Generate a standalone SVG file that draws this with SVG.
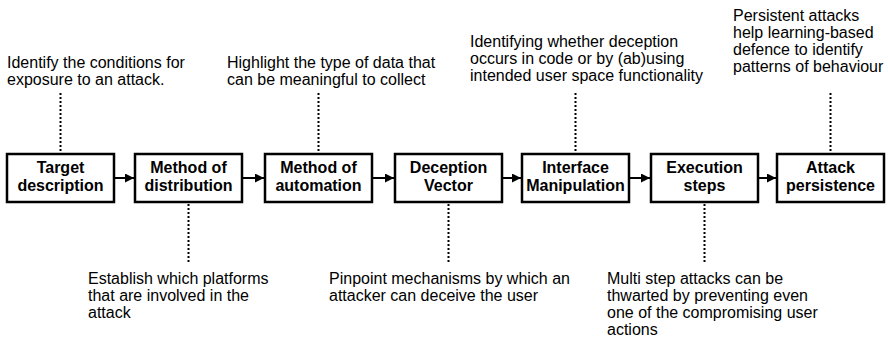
<svg xmlns="http://www.w3.org/2000/svg" width="888" height="347" viewBox="0 0 888 347">
<style>
.box{fill:#fff;stroke:#000;stroke-width:2.5}
.bt{font-family:"Liberation Sans",Arial,sans-serif;font-size:16px;font-weight:bold;text-anchor:middle;fill:#000}
.nt{font-family:"Liberation Sans",Arial,sans-serif;font-size:16px;fill:#000}
.arr{stroke:#000;stroke-width:2;fill:none;marker-end:url(#ah)}
.dot{stroke:#000;stroke-width:2;stroke-dasharray:2 2;fill:none}
</style>
<defs>
<marker id="ah" viewBox="0 0 10 10" refX="10" refY="5" markerWidth="4.5" markerHeight="4.5" orient="auto" markerUnits="strokeWidth">
<path d="M0,0 L10,5 L0,10 Z" fill="#000"/>
</marker>
</defs>
<rect width="888" height="347" fill="#fff"/>
<g id="connectors">
<line class="arr" x1="115" y1="178" x2="134" y2="178"/>
<line class="arr" x1="243" y1="178" x2="264" y2="178"/>
<line class="arr" x1="373" y1="178" x2="394" y2="178"/>
<line class="arr" x1="503" y1="178" x2="521" y2="178"/>
<line class="arr" x1="630" y1="178" x2="650" y2="178"/>
<line class="arr" x1="759" y1="178" x2="776" y2="178"/>
<line class="dot" x1="60.5" y1="93" x2="60.5" y2="153"/>
<line class="dot" x1="318.5" y1="93" x2="318.5" y2="153"/>
<line class="dot" x1="575.5" y1="93" x2="575.5" y2="153"/>
<line class="dot" x1="830.5" y1="93" x2="830.5" y2="153"/>
<line class="dot" x1="188.5" y1="204" x2="188.5" y2="264"/>
<line class="dot" x1="448.5" y1="204" x2="448.5" y2="264"/>
<line class="dot" x1="704.5" y1="204" x2="704.5" y2="264"/>
</g>
<g id="n1"><rect class="box" x="7" y="154" width="107" height="48"/><text class="bt" x="60.5" y="173">Target</text><text class="bt" x="60.5" y="191">description</text></g>
<g id="n2"><rect class="box" x="135" y="154" width="107" height="48"/><text class="bt" x="188.5" y="173">Method of</text><text class="bt" x="188.5" y="191">distribution</text></g>
<g id="n3"><rect class="box" x="265" y="154" width="107" height="48"/><text class="bt" x="318.5" y="173">Method of</text><text class="bt" x="318.5" y="191">automation</text></g>
<g id="n4"><rect class="box" x="395" y="154" width="107" height="48"/><text class="bt" x="448.5" y="173">Deception</text><text class="bt" x="448.5" y="191">Vector</text></g>
<g id="n5"><rect class="box" x="522" y="154" width="107" height="48"/><text class="bt" x="575.5" y="173">Interface</text><text class="bt" x="575.5" y="191">Manipulation</text></g>
<g id="n6"><rect class="box" x="651" y="154" width="107" height="48"/><text class="bt" x="704.5" y="173">Execution</text><text class="bt" x="704.5" y="191">steps</text></g>
<g id="n7"><rect class="box" x="777" y="154" width="107" height="48"/><text class="bt" x="830.5" y="173">Attack</text><text class="bt" x="830.5" y="191">persistence</text></g>
<g id="note1"><text class="nt" x="7" y="68">Identify the conditions for</text><text class="nt" x="7" y="85">exposure to an attack.</text></g>
<g id="note3"><text class="nt" x="227" y="68">Highlight the type of data that</text><text class="nt" x="227" y="85">can be meaningful to collect</text></g>
<g id="note5"><text class="nt" x="470" y="47">Identifying whether deception</text><text class="nt" x="470" y="64">occurs in code or by (ab)using</text><text class="nt" x="470" y="81">intended user space functionality</text></g>
<g id="note7"><text class="nt" x="733" y="21">Persistent attacks</text><text class="nt" x="733" y="38">help learning-based</text><text class="nt" x="733" y="55">defence to identify</text><text class="nt" x="733" y="72">patterns of behaviour</text></g>
<g id="note2"><text class="nt" x="88" y="284">Establish which platforms</text><text class="nt" x="88" y="301">that are involved in the</text><text class="nt" x="88" y="318">attack</text></g>
<g id="note4"><text class="nt" x="329" y="284">Pinpoint mechanisms by which an</text><text class="nt" x="329" y="301">attacker can deceive the user</text></g>
<g id="note6"><text class="nt" x="607" y="284">Multi step attacks can be</text><text class="nt" x="607" y="301">thwarted by preventing even</text><text class="nt" x="607" y="318">one of the compromising user</text><text class="nt" x="607" y="335">actions</text></g>
</svg>
